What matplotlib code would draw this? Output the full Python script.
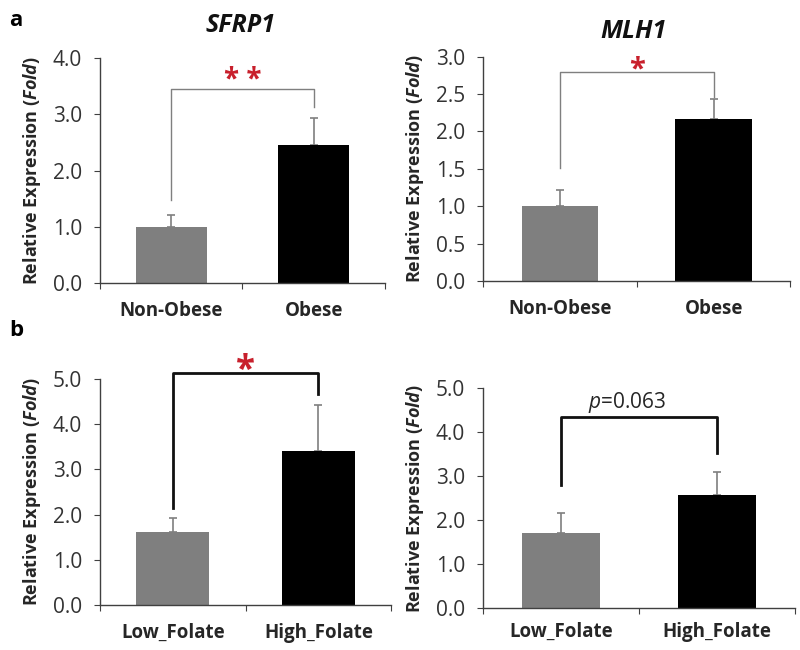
import matplotlib
matplotlib.use("Agg")
import matplotlib.pyplot as plt

plt.rcParams['font.family'] = ['Open Sans', 'DejaVu Sans']
plt.rcParams['mathtext.fontset'] = 'custom'
plt.rcParams['mathtext.rm'] = 'Open Sans'
plt.rcParams['mathtext.it'] = 'Open Sans:italic'
plt.rcParams['mathtext.bf'] = 'Open Sans:bold'
plt.rcParams['mathtext.bfit'] = 'Open Sans:bold:italic'

# ---------------- data ----------------
obesity_groups = ["Non-Obese", "Obese"]
folate_groups = ["Low_Folate", "High_Folate"]

sfrp1_obesity = [1.0, 2.45]
sfrp1_obesity_err = [0.21, 0.48]
mlh1_obesity = [1.0, 2.17]
mlh1_obesity_err = [0.22, 0.26]

sfrp1_folate = [1.61, 3.40]
sfrp1_folate_err = [0.31, 1.02]
mlh1_folate = [1.70, 2.57]
mlh1_folate_err = [0.46, 0.52]

titles = ["SFRP1", "MLH1"]
ymax = [4.0, 3.0, 5.0, 5.0]
ystep = [1.0, 0.5, 1.0, 1.0]
sig_labels = ["* *", "*", "*", r"$\it{p}$=0.063"]
bracket_top = [3.45, 2.80, 5.13, 4.34]
bracket_left = [1.48, 1.51, 2.14, 2.80]
bracket_right = [3.13, 2.46, 4.66, 3.52]

# ---------------- layout ----------------
fig = plt.figure(figsize=(8, 6.5), dpi=100)
positions = [
    [0.125, 0.5646, 0.356, 0.346],
    [0.604, 0.5677, 0.384, 0.345],
    [0.125, 0.0692, 0.364, 0.348],
    [0.604, 0.0646, 0.390, 0.338],
]
panels = [
    (obesity_groups, sfrp1_obesity, sfrp1_obesity_err),
    (obesity_groups, mlh1_obesity, mlh1_obesity_err),
    (folate_groups, sfrp1_folate, sfrp1_folate_err),
    (folate_groups, mlh1_folate, mlh1_folate_err),
]
bar_colors = ["#7f7f7f", "#000000"]
text_color = "#262626"
tick_color = "#333333"
bracket_colors = ["#7f7f7f", "#7f7f7f", "#111111", "#111111"]
bracket_lw = [1.0, 1.0, 2.0, 2.0]
star_color = "#c8202c"
star_size = [20, 21, 25]
star_offset = [1, -4, -5]      # points, baseline relative to bracket
cat_pad = [13, 13, 13, 10]

for i, (pos, (cats, vals, errs)) in enumerate(zip(positions, panels)):
    ax = fig.add_axes(pos)
    x = list(range(len(cats)))
    ax.bar(x, vals, width=0.5, color=bar_colors, zorder=2)
    ax.errorbar(x, vals, yerr=[[0] * len(errs), errs], fmt="none",
                ecolor="#7f7f7f", elinewidth=1.2, capsize=3, capthick=1.2, zorder=1)
    ax.set_xlim(-0.5, 1.5)
    ax.set_ylim(0, ymax[i])
    n = int(round(ymax[i] / ystep[i]))
    ticks = [k * ystep[i] for k in range(n + 1)]
    ax.set_yticks(ticks)
    ax.set_yticklabels(["%.1f" % t for t in ticks], fontsize=15, color=tick_color)
    ax.set_xticks([-0.5, 0.5, 1.5], minor=False)
    ax.set_xticklabels([])
    ax.set_xticks(x, minor=True)
    ax.set_xticklabels(cats, minor=True, fontsize=13.5, fontweight="bold", color=text_color)
    ax.tick_params(axis="x", which="minor", length=0, pad=cat_pad[i])
    ax.tick_params(axis="x", which="major", length=4, direction="out", color="#404040")
    ax.tick_params(axis="y", length=4, direction="out", color="#404040", pad=9)
    for s in ["top", "right"]:
        ax.spines[s].set_visible(False)
    for s in ["left", "bottom"]:
        ax.spines[s].set_color("#404040")
        ax.spines[s].set_linewidth(1.0)
    ax.set_ylabel(r"Relative Expression ($\mathbfit{Fold}$)", fontsize=13,
                  fontweight="bold", color=text_color, labelpad=7)
    # significance bracket
    ax.plot([x[0], x[0], x[1], x[1]],
            [bracket_left[i], bracket_top[i], bracket_top[i], bracket_right[i]],
            color=bracket_colors[i], lw=bracket_lw[i], clip_on=False, zorder=3)
    mid = (x[0] + x[1]) / 2
    if i < 3:
        ax.annotate(sig_labels[i], xy=(mid, bracket_top[i]), xytext=(0, star_offset[i]),
                    textcoords="offset points", ha="center", va="baseline",
                    fontsize=star_size[i], fontweight="bold", color=star_color,
                    annotation_clip=False)
    else:
        ax.annotate(sig_labels[i], xy=(mid, bracket_top[i]), xytext=(-9, 7),
                    textcoords="offset points", ha="center", va="baseline",
                    fontsize=15, color=text_color, annotation_clip=False)

fig.text(241 / 800, 1 - 25 / 650, titles[0], fontsize=18, fontweight="bold",
         style="italic", color="#111111", ha="center", va="center")
fig.text(633 / 800, 1 - 31 / 650, titles[1], fontsize=18, fontweight="bold",
         style="italic", color="#111111", ha="center", va="center")
fig.text(0.012, 0.968, "a", fontsize=16, fontweight="bold", va="center", ha="left")
fig.text(0.012, 0.491, "b", fontsize=16, fontweight="bold", va="center", ha="left")

fig.savefig("out.png", dpi=100, facecolor="white")
